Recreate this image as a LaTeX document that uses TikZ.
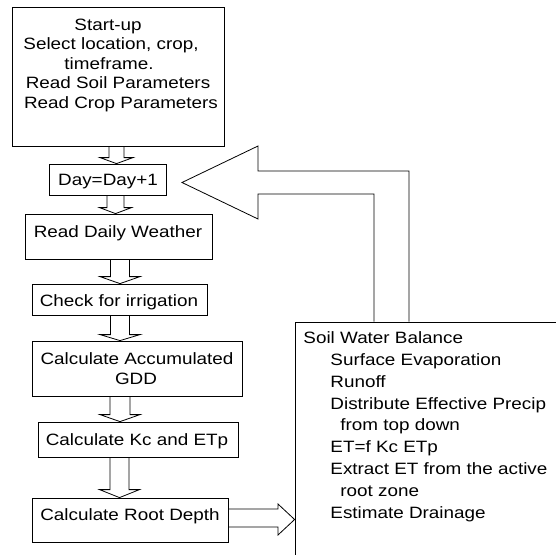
\documentclass[tikz,border=0pt]{standalone}
\usepackage{fontspec}
\setmainfont{Liberation Sans}
\usetikzlibrary{calc}
\newcommand\dnarrow[6]{% from, to, x centre, shaft half width, head half width, head length
  \draw let \p1=(#1.south), \p2=(#2.north) in
    ({#3pt-#4pt},\y1) -- ({#3pt-#4pt},{\y2+#6pt}) -- ({#3pt-#5pt},{\y2+#6pt}) -- ({#3pt},\y2)
    -- ({#3pt+#5pt},{\y2+#6pt}) -- ({#3pt+#4pt},{\y2+#6pt}) -- ({#3pt+#4pt},\y1);}
\begin{document}
\begin{tikzpicture}[x=1pt,y=-1pt,line width=0.8pt,line join=miter,
  box/.style={draw,rectangle,inner sep=0pt},
  txt/.style={inner sep=0pt,anchor=base,font=\fontsize{16.4}{19}\selectfont,xscale=1.15,transform shape},
  ltxt/.style={txt,anchor=base west}]
\clip (0,0) rectangle (556,554);
% boxes
\node[box,minimum width=212pt,minimum height=139pt] (start) at (118,76.5) {};
\node[box,minimum width=117pt,minimum height=31pt] (day) at (107.5,179.5) {};
\node[box,minimum width=187pt,minimum height=45pt] (weather) at (118.5,236.5) {};
\node[box,minimum width=175pt,minimum height=31pt] (check) at (119.5,299.5) {};
\node[box,minimum width=210pt,minimum height=55pt] (gdd) at (137,368.5) {};
\node[box,minimum width=200pt,minimum height=35pt] (kc) at (138,439.5) {};
\node[box,minimum width=196pt,minimum height=44pt] (root) at (130,520) {};
\node[box,minimum width=275pt,minimum height=258pt] (swb) at (432.5,451) {};
% texts
\node[txt] (s1) at (108,30) {Start-up};
\node[txt] (s2) at (111,49.5) {Select location, crop,};
\node[txt] (s3) at (109,69) {timeframe.};
\node[txt] (s4) at (118,88.5) {Read Soil Parameters};
\node[txt] (s5) at (121,108) {Read Crop Parameters};
\node[txt] (t1) at (108,185) {Day=Day+1};
\node[txt] (t2) at (118,237) {Read Daily Weather};
\node[txt] (t3) at (119,306) {Check for irrigation};
\node[txt] (t4) at (137,364) {Calculate Accumulated};
\node[txt] (t5) at (136,384) {GDD};
\node[txt] (t6) at (137,445) {Calculate Kc and ETp};
\node[txt] (t7) at (130,520) {Calculate Root Depth};
\node[ltxt] (w1) at (303,343.3) {Soil Water Balance};
\node[ltxt] (w2) at (330,365.2) {Surface Evaporation};
\node[ltxt] (w3) at (330,387.1) {Runoff};
\node[ltxt] (w4) at (330,409) {Distribute Effective Precip};
\node[ltxt] (w5) at (340,430.9) {from top down};
\node[ltxt] (w6) at (330,452.8) {ET=f Kc ETp};
\node[ltxt] (w7) at (330,474.7) {Extract ET from the active};
\node[ltxt] (w8) at (340,496.6) {root zone};
\node[ltxt] (w9) at (330,518.5) {Estimate Drainage};
% hollow down arrows
\dnarrow{start}{day}{116.5}{7.5}{16.5}{6}
\dnarrow{day}{weather}{115.5}{8.5}{16}{6}
\dnarrow{weather}{check}{120}{9.5}{20}{7}
\dnarrow{check}{gdd}{120}{9.5}{20}{6}
\dnarrow{gdd}{kc}{120}{10}{20}{7}
\dnarrow{kc}{root}{119.5}{9.5}{20}{8}
% hollow right arrow to soil water balance
\draw let \p1=(root.east), \p2=(swb.west) in
  (\x1,-509pt) -- (278pt,-509pt) -- (278pt,-504pt) -- (\x2,-519.5pt)
  -- (278pt,-535pt) -- (278pt,-527pt) -- (\x1,-527pt);
% hollow feedback arrow back to Day=Day+1
\coordinate (fbtip) at (182,182.5);
\draw let \p1=(swb.north), \p2=(fbtip) in
  (374pt,\y1) -- (374pt,-194pt) -- (258pt,-194pt) -- (258pt,-219pt) -- (\x2,\y2)
  -- (258pt,-146pt) -- (258pt,-171pt) -- (409pt,-171pt) -- (409pt,\y1);
\end{tikzpicture}
\end{document}
